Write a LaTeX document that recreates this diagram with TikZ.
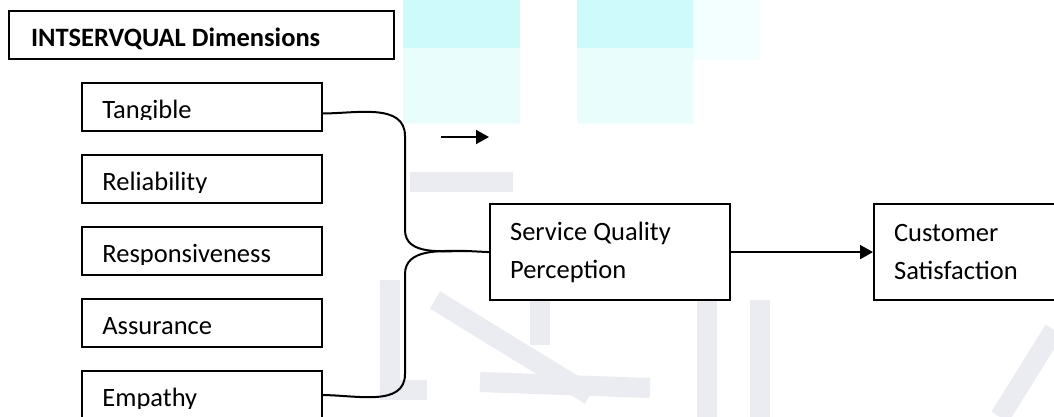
\documentclass[tikz,border=0pt]{standalone}
\usepackage{fontspec}
\setmainfont{Carlito}
\usepackage{tikz}
\usetikzlibrary{arrows.meta}

\definecolor{wmcyan}{RGB}{205,250,250}
\definecolor{wmgrey}{RGB}{234,236,242}

\tikzset{
  boxline/.style={draw, line width=1.1pt},
  titlebox/.style={boxline, minimum height=24pt, text width=170.5pt, text height=11pt, text depth=0pt, inner xsep=11pt, align=left},
  dimbox/.style={boxline, minimum width=120pt, minimum height=24pt, inner sep=0pt},
  mainbox/.style={boxline, minimum height=48pt, inner xsep=10pt, align=left},
  flow/.style={line width=1pt, -{Triangle[length=6.5pt,width=7pt]}},
  brace/.style={line width=1pt},
  every node/.append style={execute at begin node={\spaceskip=0pt\xspaceskip=0pt\relax}}
}

\begin{document}
\begin{tikzpicture}[x=0.5pt,y=-0.5pt,font=\fontsize{13.25}{19}\selectfont]
          \useasboundingbox (0,0) rectangle (1054,417);
          \fill[white] (0,0) rectangle (1054,417);
          % watermark behind the figure
          \fill[wmcyan] (403,0) rectangle (520,48);
          \fill[wmcyan!45] (403,48) rectangle (520,123);
          \fill[wmcyan] (577,0) rectangle (693,48);
          \fill[wmcyan!45] (577,48) rectangle (693,123);
          \fill[wmcyan!25] (693,0) rectangle (760,60);
          \begin{scope}[wmgrey, line width=10pt]
            \draw (410,182)--(513,182);
            \draw (390,280)--(390,390)--(427,390);
            \draw (435,300)--(590,395);
            \draw (480,382)--(650,388);
            \draw (540,295)--(540,345);
            \draw (707,300)--(707,417);
            \draw (760,300)--(760,417);
            \draw (1054,330)--(1000,417);
          \end{scope}
          \node[titlebox, anchor=north west] (dims) at (8,10) {\bfseries INTSERVQUAL Dimensions};
          \foreach \ytop/\name/\txt in {82/tang/Tangible, 154/rel/Reliability, 226/resp/Responsiveness, 298/assur/Assurance, 370/emp/Empathy}{
            \node[dimbox, anchor=north west, fill=white] (\name) at (81,\ytop) {};
            \begin{scope}
              \clip (81,\ytop) rectangle (321,\ytop+38);
              \node[anchor=base west, inner sep=0pt] (\name-txt) at (102,\ytop+36.5) {\txt};
            \end{scope}
          }
          \node[mainbox, anchor=north west, text width=100pt, fill=white] (sqp) at (489,203) {Service Quality\\Perception};
          \node[mainbox, anchor=north west, text width=80pt, fill=white] (cs) at (873,203) {Customer\\Satisfaction};
          \coordinate (tip) at (467,251);
          \draw[brace] (tang.-3) to[out=0,in=90] (405,136) -- (405,230) to[out=-90,in=180] (tip) -- (sqp.west);
          \draw[brace] (tip) to[out=180,in=90] (405,274) -- (405,374) to[out=-90,in=0] (emp.east);
          \draw[flow] (sqp.east) -- (cs.west);
          \coordinate (lone a) at (441,137);
          \coordinate (lone b) at (489,137);
          \draw[flow] (lone a) -- (lone b);
        \end{tikzpicture}
\end{document}
